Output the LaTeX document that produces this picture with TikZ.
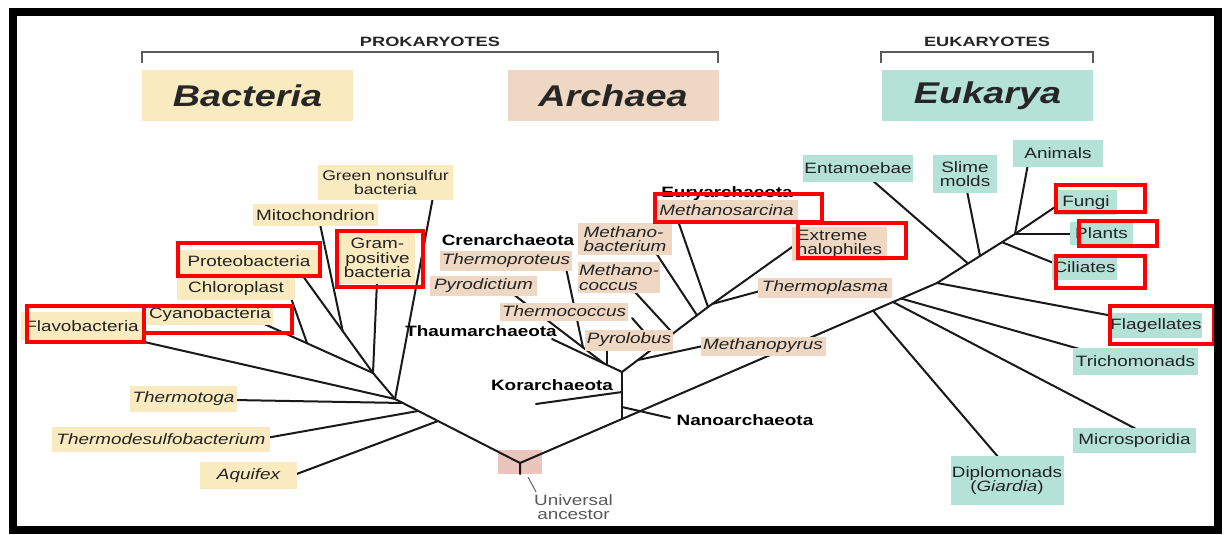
\documentclass[tikz,border=0pt]{standalone}
\usepackage{fontspec}
\newfontfamily\lab{Liberation Sans}[FakeStretch=1.26]
\newfontfamily\hdr{Liberation Sans}[FakeStretch=1.35]
\definecolor{bact}{RGB}{250,234,192}
\definecolor{arch}{RGB}{238,216,196}
\definecolor{euk}{RGB}{180,226,214}
\definecolor{pinkbox}{RGB}{236,196,190}
\definecolor{txt}{RGB}{35,35,35}
\definecolor{bracketgray}{RGB}{90,90,90}
\begin{document}
\begin{tikzpicture}[x=1pt,y=-1pt,
  treeline/.style={line width=2pt, draw=black!90, line cap=round},
  lbl/.style={font=\lab\fontsize{15}{14.5}\selectfont, text=txt, inner sep=0pt, align=center},
  bb/.style={lbl, fill=bact},
  ab/.style={lbl, fill=arch, font=\lab\itshape\fontsize{15}{14.5}\selectfont},
  abu/.style={lbl, fill=arch},
  eb/.style={lbl, fill=euk},
  bi/.style={bb, font=\lab\itshape\fontsize{15}{14.5}\selectfont},
  phylum/.style={font=\lab\bfseries\fontsize{15}{15}\selectfont, text=black, inner sep=0pt},
  domainbox/.style={font=\lab\bfseries\itshape\fontsize{30}{30}\selectfont, text=black!85, inner sep=0pt, minimum width=211pt, minimum height=51pt},
  headertext/.style={font=\hdr\bfseries\fontsize{13.5}{14}\selectfont, text=black!85, inner sep=0pt},
  bracketline/.style={line width=1.1pt, draw=bracketgray},
  redbox/.style={line width=4.5pt, draw=red}
]
\useasboundingbox (0,0) rectangle (1227,535);
\fill[white] (0,0) rectangle (1227,535);

% ---------- coordinates ----------
\coordinate (R) at (520,463);
\coordinate (Rs) at (520,474);
% bacteria
\coordinate (H1) at (395,399);
\coordinate (Jaq) at (438,421);
\coordinate (Jtd) at (418,411);
\coordinate (Jtt) at (403,403);
\coordinate (N1) at (373,373);
\coordinate (M1) at (342.7,331);
\coordinate (C1) at (307,343);
\coordinate (tAq) at (294,475);
\coordinate (tTd) at (266,438);
\coordinate (tTt) at (233,400);
\coordinate (tFl) at (140,341);
\coordinate (tGn) at (433,197);
\coordinate (tPr) at (300,272);
\coordinate (tMi) at (320,224);
\coordinate (tGp) at (377,281);
\coordinate (tCy) at (262,323);
\coordinate (tCh) at (291,298);
% archaea
\coordinate (V) at (622,419);
\coordinate (A) at (622,372);
\coordinate (K1) at (622,392);
\coordinate (tKo) at (536,404);
\coordinate (N2) at (622,407);
\coordinate (tNa) at (670,418);
\coordinate (tTh) at (552,339);
\coordinate (P1) at (604,363.5);
\coordinate (tPd) at (513,294);
\coordinate (T1) at (583,347.5);
\coordinate (tTp) at (566,268);
\coordinate (P2) at (607,365);
\coordinate (tPl) at (607,346);
\coordinate (Eu) at (708,307);
\coordinate (MP1) at (638,360);
\coordinate (tMp) at (703,346);
\coordinate (TC1) at (656.5,346);
\coordinate (tTc) at (632,318);
\coordinate (MC1) at (673,333.4);
\coordinate (tMc) at (634,291);
\coordinate (MB1) at (697,315.3);
\coordinate (tMb) at (656,253);
\coordinate (tMs) at (677,218);
\coordinate (tEh) at (795,245);
\coordinate (TP1) at (712,304);
\coordinate (tTpl) at (760,291);
% eukarya
\coordinate (E0) at (873,310.6);
\coordinate (E1) at (893,302);
\coordinate (E2) at (901,298.5);
\coordinate (E3) at (937,283);
\coordinate (E4) at (968,263.5);
\coordinate (E5) at (980,256);
\coordinate (E6) at (1002,242.2);
\coordinate (E7) at (1015,234);
\coordinate (tDi) at (999,458);
\coordinate (tMsp) at (1140,431);
\coordinate (tTr) at (1083,350);
\coordinate (tFg) at (1113,316);
\coordinate (tEn) at (872,180);
\coordinate (tSl) at (967,191);
\coordinate (tCi) at (1056,264);
\coordinate (tAn) at (1028,164);
\coordinate (tPla) at (1073,234);
\coordinate (tFu) at (1058,205);
% leader
\coordinate (L1) at (528,477);
\coordinate (L2) at (536,492);

% ---------- universal ancestor box ----------
\node[fill=pinkbox, inner sep=0pt, minimum width=44pt, minimum height=24pt] (ua) at (520,462) {};

% ---------- tree lines ----------
\draw[treeline] (Rs) -- (R) -- (H1);
\draw[treeline] (R) -- (V) -- (E3) -- (E7);
\draw[treeline] (V) -- (A);
% bacteria
\draw[treeline] (Jaq) -- (tAq);
\draw[treeline] (Jtd) -- (tTd);
\draw[treeline] (Jtt) -- (tTt);
\draw[treeline] (H1) -- (tFl);
\draw[treeline] (H1) -- (tGn);
\draw[treeline] (H1) -- (N1);
\draw[treeline] (N1) -- (tPr);
\draw[treeline] (M1) -- (tMi);
\draw[treeline] (N1) -- (tGp);
\draw[treeline] (N1) -- (tCy);
\draw[treeline] (C1) -- (tCh);
% archaea
\draw[treeline] (K1) -- (tKo);
\draw[treeline] (N2) -- (tNa);
\draw[treeline] (A) -- (tTh);
\draw[treeline] (P1) -- (tPd);
\draw[treeline] (T1) -- (tTp);
\draw[treeline] (P2) -- (tPl);
\draw[treeline] (A) -- (Eu);
\draw[treeline] (MP1) -- (tMp);
\draw[treeline] (TC1) -- (tTc);
\draw[treeline] (MC1) -- (tMc);
\draw[treeline] (MB1) -- (tMb);
\draw[treeline] (Eu) -- (tMs);
\draw[treeline] (Eu) -- (tEh);
\draw[treeline] (TP1) -- (tTpl);
% eukarya
\draw[treeline] (E0) -- (tDi);
\draw[treeline] (E1) -- (tMsp);
\draw[treeline] (E2) -- (tTr);
\draw[treeline] (E3) -- (tFg);
\draw[treeline] (E4) -- (tEn);
\draw[treeline] (E5) -- (tSl);
\draw[treeline] (E6) -- (tCi);
\draw[treeline] (E7) -- (tAn);
\draw[treeline] (E7) -- (tPla);
\draw[treeline] (E7) -- (tFu);
% leader line
\draw[line width=1pt, draw=black!60] (L1) -- (L2);

% ---------- headers ----------
\node[headertext] (prok) at (430,42) {PROKARYOTES};
\node[headertext] (eukhead) at (987,42) {EUKARYOTES};
\draw[bracketline] (142,63) -- (142,52) -- (718,52) -- (718,63);
\draw[bracketline] (881,63) -- (881,52) -- (1093,52) -- (1093,63);
\node[domainbox, fill=bact] (bacteria) at (247.5,95.5) {Bacteria};
\node[domainbox, fill=arch] (archaea) at (613,95.5) {Archaea};
\node[domainbox, fill=euk] (eukarya) at (987.5,95.5) {Eukarya};

% ---------- bacteria labels ----------
\node[bb, minimum width=135pt, minimum height=35pt, font=\lab\fontsize{14}{14.5}\selectfont] (gns) at (385.5,182.5) {Green nonsulfur\\bacteria};
\node[bb, minimum width=125pt, minimum height=22pt] (mito) at (315.5,215) {Mitochondrion};
\node[bb, minimum width=138pt, minimum height=24pt] (proteo) at (249,261.5) {Proteobacteria};
\node[bb, minimum width=75pt, minimum height=52pt] (gram) at (377.5,258) {Gram-\\positive\\bacteria};
\node[bb, minimum width=118pt, minimum height=22pt] (chloro) at (236,288.5) {Chloroplast};
\node[bb, minimum width=126pt, minimum height=20pt] (cyano) at (210,315) {Cyanobacteria};
\node[bb, minimum width=122pt, minimum height=28pt] (flavo) at (82,326) {Flavobacteria};
\node[bi, minimum width=107pt, minimum height=26pt] (ttoga) at (183.5,399) {Thermotoga};
\node[bi, minimum width=218pt, minimum height=25pt] (tdesulfo) at (161,439.5) {Thermodesulfobacterium};
\node[bi, minimum width=97pt, minimum height=27pt] (aquifex) at (248.5,475.5) {Aquifex};

% ---------- archaea labels ----------
\node[ab, minimum width=132pt, minimum height=20pt] (tproteus) at (506,261) {Thermoproteus};
\node[ab, minimum width=107pt, minimum height=20pt] (pyrodict) at (483.5,286) {Pyrodictium};
\node[ab, minimum width=128pt, minimum height=18pt] (tcoccus) at (564,311.5) {Thermococcus};
\node[ab, minimum width=88pt, minimum height=21pt] (pyrolobus) at (629,340) {Pyrolobus};
\node[ab, minimum width=94pt, minimum height=32pt, align=left] (mbact) at (625,239) {Methano-\\bacterium};
\node[ab, minimum width=82pt, minimum height=31pt, align=left] (mcoccus) at (619,277.5) {Methano-\\coccus};
\node[phylum] (eury) at (727,193.5) {Euryarchaeota};
\node[ab, minimum width=143pt, minimum height=20pt] (msarcina) at (726.5,210) {Methanosarcina};
\node[abu, minimum width=95pt, minimum height=34pt, align=left] (halo) at (839.5,244) {Extreme\\halophiles};
\node[ab, minimum width=134pt, minimum height=20pt] (tplasma) at (825,288) {Thermoplasma};
\node[ab, minimum width=125pt, minimum height=19pt] (mpyrus) at (763,346) {Methanopyrus};
\node[phylum] (cren) at (508,240) {Crenarchaeota};
\node[phylum] (thaum) at (481,331) {Thaumarchaeota};
\node[phylum] (kor) at (552,385) {Korarchaeota};
\node[phylum] (nano) at (745,420) {Nanoarchaeota};

% ---------- eukarya labels ----------
\node[eb, minimum width=110pt, minimum height=27pt] (entam) at (858,168.5) {Entamoebae};
\node[eb, minimum width=64pt, minimum height=38pt] (slime) at (965,174) {Slime\\molds};
\node[eb, minimum width=90pt, minimum height=27pt] (animals) at (1058,153.5) {Animals};
\node[eb, minimum width=62pt, minimum height=25pt] (fungi) at (1086,202.5) {Fungi};
\node[eb, minimum width=63pt, minimum height=23pt] (plants) at (1101.5,233.5) {Plants};
\node[eb, minimum width=65pt, minimum height=25pt] (ciliates) at (1084.5,267.5) {Ciliates};
\node[eb, minimum width=92pt, minimum height=25pt] (flag) at (1156,325.5) {Flagellates};
\node[eb, minimum width=125pt, minimum height=27pt] (trich) at (1135.5,361.5) {Trichomonads};
\node[eb, minimum width=123pt, minimum height=25pt] (micro) at (1134.5,440.5) {Microsporidia};
\node[eb, minimum width=113pt, minimum height=49pt] (diplo) at (1007,480.5) {Diplomonads\\(\textit{Giardia})};

% ---------- universal ancestor text ----------
\node[lbl, text=black!65] (uatext) at (573.5,507) {Universal\\ancestor};

% ---------- red highlight rectangles ----------
\draw[redbox] (178,243) rectangle (320,276);
\draw[redbox] (337,231) rectangle (423,287);
\draw[redbox] (144,306) rectangle (292,333);
\draw[redbox] (27,306) rectangle (144,342);
\draw[redbox] (655,194) rectangle (822,222);
\draw[redbox] (798,223) rectangle (906,258);
\draw[redbox] (1056,185) rectangle (1145,212);
\draw[redbox] (1079,221) rectangle (1157,246);
\draw[redbox] (1056,256) rectangle (1145,288);
\draw[redbox] (1110,306) rectangle (1214,344);

% ---------- frame ----------
\draw[line width=8pt] (12.5,12) rectangle (1217.5,530);
\end{tikzpicture}
\end{document}
